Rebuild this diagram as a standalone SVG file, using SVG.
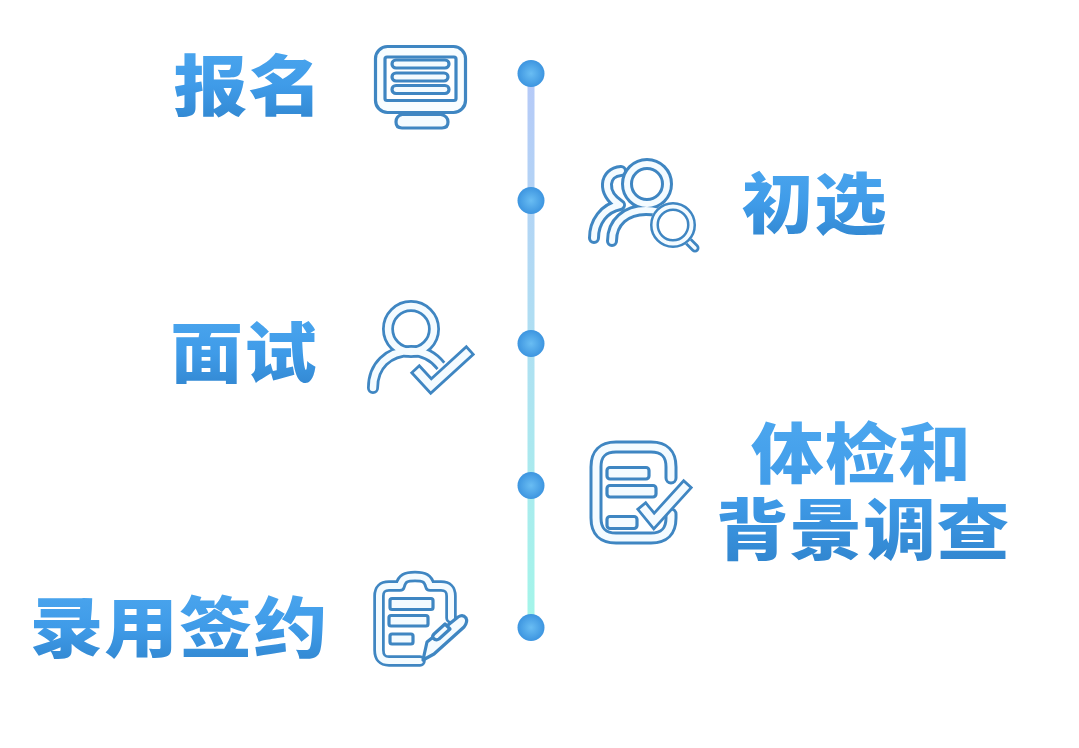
<svg xmlns="http://www.w3.org/2000/svg" width="1079" height="748" viewBox="0 0 1079 748">
<defs>
<linearGradient id="tg" x1="0" y1="0" x2="0" y2="1"><stop offset="0" stop-color="#4fa9f0"/><stop offset="0.55" stop-color="#3f9be8"/><stop offset="1" stop-color="#2f83cc"/></linearGradient>
<linearGradient id="lg" gradientUnits="userSpaceOnUse" x1="0" y1="73" x2="0" y2="627"><stop offset="0" stop-color="#b6c9f8"/><stop offset="0.5" stop-color="#aee0f2"/><stop offset="1" stop-color="#a3f6e9"/></linearGradient>
<radialGradient id="dg"><stop offset="0" stop-color="#69bdf3"/><stop offset="1" stop-color="#3d95e0"/></radialGradient>
</defs>
<style>
text{font-family:"Noto Sans CJK SC","Noto Sans",sans-serif;font-weight:900;font-size:66px;letter-spacing:1px;text-anchor:middle;fill:url(#tg)}
.d{fill:none;stroke:#3f86c2;stroke-linecap:round;stroke-linejoin:round}
.w{fill:none;stroke:#f4fbff;stroke-linecap:round;stroke-linejoin:round}
.o{fill:#f4fbff;stroke:#3f86c2;stroke-width:3.200;stroke-linejoin:round}
.h{fill:#fff;stroke:#fff;stroke-linecap:round;stroke-linejoin:round}
.m{stroke-linecap:square;stroke-linejoin:miter}
.dot{fill:url(#dg)}
</style>
<g id="connectors"><rect x="527.500" y="73" width="7" height="554" fill="url(#lg)"/></g>
<g id="step1"><text transform="translate(248.500 110) scale(1.12 1)">报名</text>
<rect class="o" x="375.500" y="46.500" width="90" height="66" rx="12" style="fill:#f8fdff"/>
<path class="o" d="M402,114.500H441Q448,116 448,122Q448,128 442,128H402Q396,128 396,122Q396,116 402,114.500Z"/>
<rect class="o" x="385" y="57" width="71" height="43.500" rx="2" style="fill:#fff"/>
<rect class="o" x="392" y="60" width="57" height="8" rx="4"/><rect class="o" x="392" y="73" width="56" height="8" rx="4"/><rect class="o" x="392" y="85.500" width="57" height="8" rx="4"/>
<circle class="dot" cx="531" cy="73.500" r="13.500"/></g>
<g id="step2"><text transform="translate(814.500 228) scale(1.09 1)">初选</text>
<path class="d" stroke-width="12" d="M621,171C604,172 601,193 620,205C604,208 594,222 594,238"/>
<path class="w" stroke-width="6" d="M621,171C604,172 601,193 620,205C604,208 594,222 594,238"/>
<g class="d" stroke-width="12"><circle cx="647" cy="184" r="20"/><path d="M612,241C612,222 626,210 646,210C654,210 662,212 668,216"/></g>
<g class="w" stroke-width="6"><circle cx="647" cy="184" r="20"/><path d="M612,241C612,222 626,210 646,210C654,210 662,212 668,216"/></g>
<path class="d" stroke-width="9" d="M687,240L695,248"/><path class="w" stroke-width="3.500" d="M687,240L695,248"/>
<circle cx="673" cy="225" r="19" class="h" stroke-width="8"/>
<circle cx="673" cy="225" r="18.500" class="d" stroke-width="9"/><circle cx="673" cy="225" r="18.500" class="w" stroke-width="4"/>
<circle class="dot" cx="531" cy="200.500" r="13.500"/></g>
<g id="step3"><text transform="translate(244 377) scale(1.1 1)">面试</text>
<g class="d" stroke-width="12"><circle cx="411" cy="329" r="23"/><path d="M373,388C373,366 388,351 411,351C425,351 434,357 441,366"/></g>
<g class="w" stroke-width="6.500"><circle cx="411" cy="329" r="23"/><path d="M373,388C373,366 388,351 411,351C425,351 434,357 441,366"/></g>
<path class="h" stroke-width="17" style="fill:none" d="M418,373L431,387L467,353"/>
<path class="d m" stroke-width="13" d="M419,373L431,386L466,354"/>
<path class="w m" stroke-width="7.500" d="M419,373L431,386L466,354"/>
<circle class="dot" cx="531" cy="343.500" r="13.500"/></g>
<g id="step4"><text transform="translate(861.500 478) scale(1.1 1)"><tspan x="0" y="0">体检和</tspan><tspan x="1.500" y="76">背景调查</tspan></text>
<path class="d" stroke-width="13" d="M671,478V467Q671,447 651,447H616Q596,447 596,467V518Q596,538 616,538H651Q671,538 671,518V514"/>
<path class="w" stroke-width="7" d="M671,478V467Q671,447 651,447H616Q596,447 596,467V518Q596,538 616,538H651Q671,538 671,518V514"/>
<g class="o"><rect x="607" y="467.500" width="42" height="11.500" rx="3"/><rect x="607" y="485.500" width="49" height="11.500" rx="3"/><rect x="607" y="516.500" width="30" height="12" rx="3"/></g>
<path class="d m" stroke-width="13" d="M645,510L654,521L684,488"/>
<path class="w m" stroke-width="7.500" d="M645,510L654,521L684,488"/>
<circle class="dot" cx="531" cy="485.500" r="13.500"/></g>
<g id="step5"><text transform="translate(179 652) scale(1.115 1)">录用签约</text>
<path class="d" stroke-width="11.500" d="M451,618V596Q451,586 441,586H430C428,578 424,576.500 415,576.500C406,576.500 402,578 400,586H389Q379,586 379,596V650Q379,661 389,661H420"/>
<path class="w" stroke-width="6" d="M451,618V596Q451,586 441,586H430C428,578 424,576.500 415,576.500C406,576.500 402,578 400,586H389Q379,586 379,596V650Q379,661 389,661H420"/>
<g class="o"><rect x="390" y="598.500" width="43" height="11" rx="2"/><rect x="389" y="615.500" width="39" height="10.500" rx="2"/><rect x="390" y="634" width="23" height="10" rx="2"/></g>
<path class="o" d="M423,660L427,642L458,617Q463,614 466,618Q468,622 464,627L434,654Z"/>
<path class="o" d="M434,634L445,624L450,629L439,639Q436,641 433,638Q432,636 434,634Z"/>
<circle class="dot" cx="531" cy="627.500" r="13.500"/></g>
</svg>
